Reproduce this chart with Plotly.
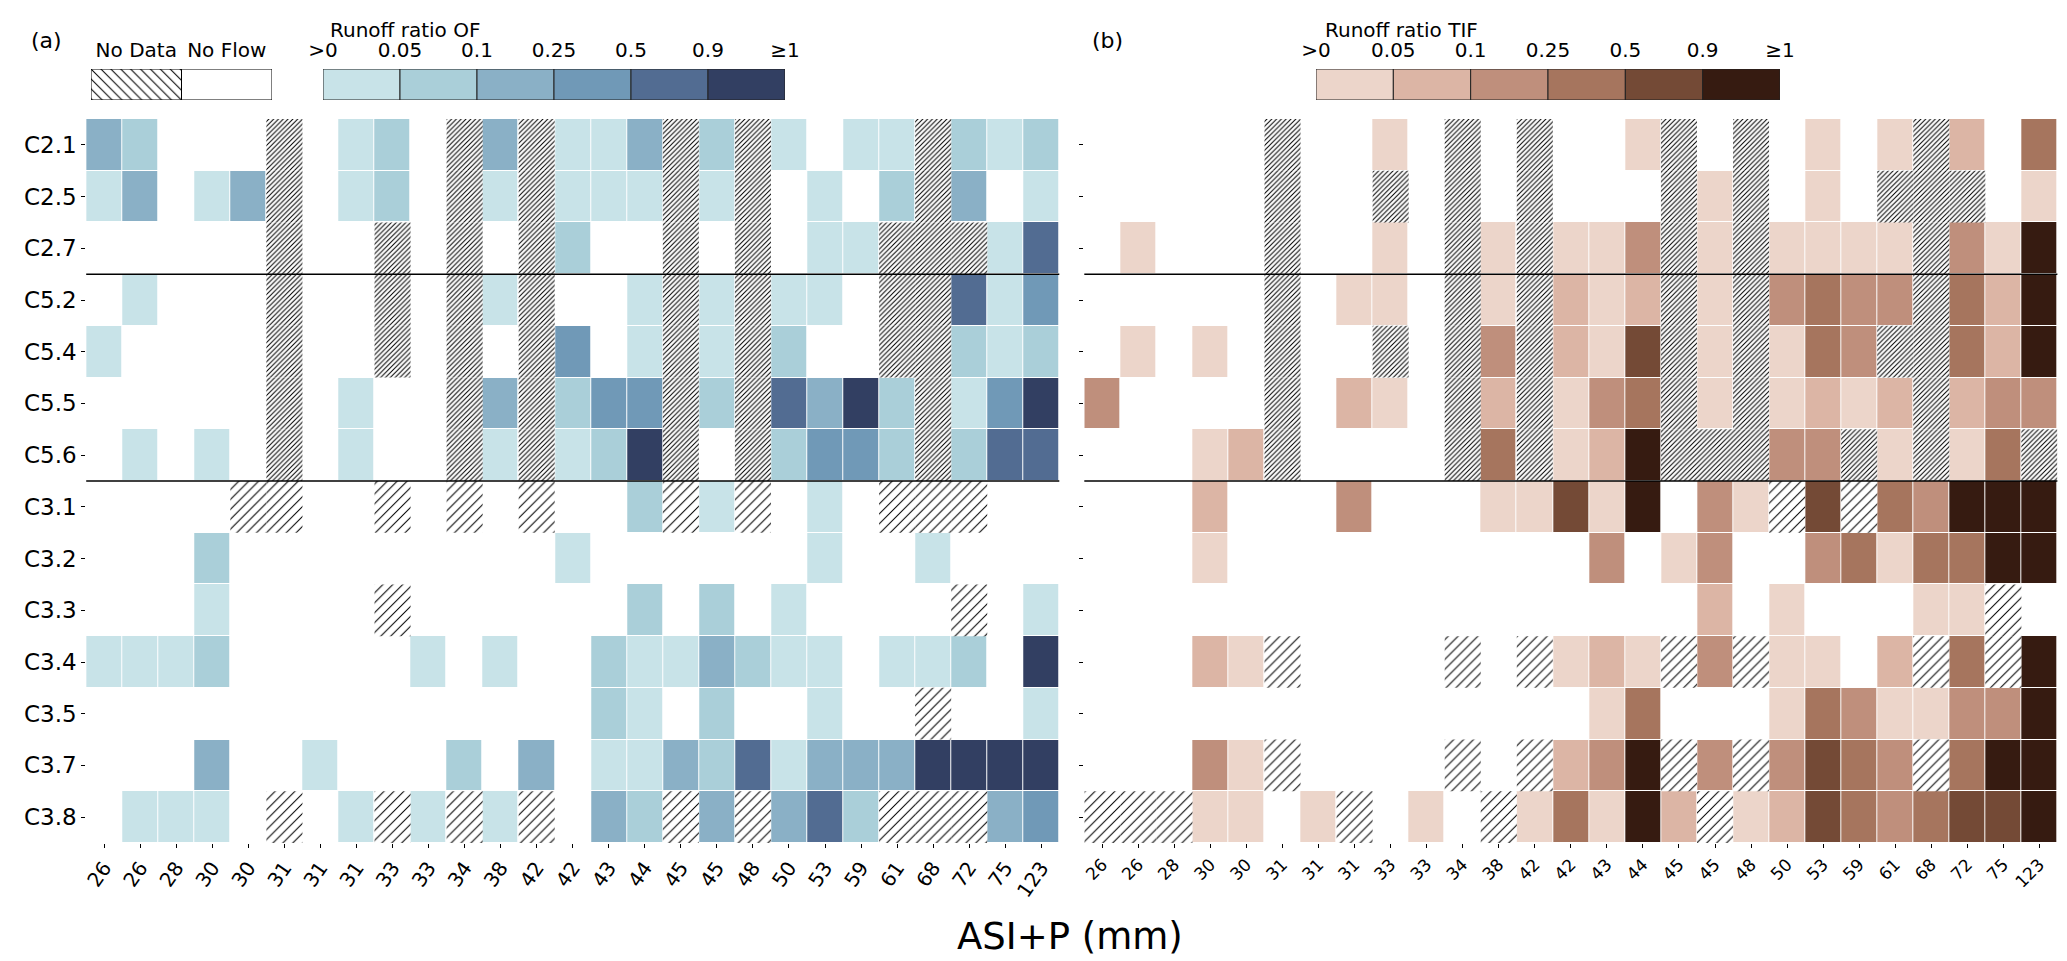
import plotly.graph_objects as go

W, H = 2067, 961

# ASI+P (mm) per event, x axis tick labels
asi_p = [26, 26, 28, 30, 30, 31, 31, 31, 33, 33, 34, 38, 42, 42, 43, 44, 45, 45,
         48, 50, 53, 59, 61, 68, 72, 75, 123]
sites = ['C2.1', 'C2.5', 'C2.7', 'C5.2', 'C5.4', 'C5.5', 'C5.6',
         'C3.1', 'C3.2', 'C3.3', 'C3.4', 'C3.5', 'C3.7', 'C3.8']
groups = [3, 4, 7]  # rows per site group (separated by black lines)
bin_labels = ['>0', '0.05', '0.1', '0.25', '0.5', '0.9', '≥1']

N = -1  # no data ; 0 = no flow ; 1..6 = runoff ratio class
of_class = [
    [3, 2, 0, 0, 0, N, 0, 1, 2, 0, N, 3, N, 1, 1, 3, N, 2, N, 1, 0, 1, 1, N, 2, 1, 2],
    [1, 3, 0, 1, 3, N, 0, 1, 2, 0, N, 1, N, 1, 1, 1, N, 1, N, 0, 1, 0, 2, N, 3, 0, 1],
    [0, 0, 0, 0, 0, N, 0, 0, N, 0, N, 0, N, 2, 0, 0, N, 0, N, 0, 1, 1, N, N, N, 1, 5],
    [0, 1, 0, 0, 0, N, 0, 0, N, 0, N, 1, N, 0, 0, 1, N, 1, N, 1, 1, 0, N, N, 5, 1, 4],
    [1, 0, 0, 0, 0, N, 0, 0, N, 0, N, 0, N, 4, 0, 1, N, 1, N, 2, 0, 0, N, N, 2, 1, 2],
    [0, 0, 0, 0, 0, N, 0, 1, 0, 0, N, 3, N, 2, 4, 4, N, 2, N, 5, 3, 6, 2, N, 1, 4, 6],
    [0, 1, 0, 1, 0, N, 0, 1, 0, 0, N, 1, N, 1, 2, 6, N, 0, N, 2, 4, 4, 2, N, 2, 5, 5],
    [0, 0, 0, 0, N, N, 0, 0, N, 0, N, 0, N, 0, 0, 2, N, 1, N, 0, 1, 0, N, N, N, 0, 0],
    [0, 0, 0, 2, 0, 0, 0, 0, 0, 0, 0, 0, 0, 1, 0, 0, 0, 0, 0, 0, 1, 0, 0, 1, 0, 0, 0],
    [0, 0, 0, 1, 0, 0, 0, 0, N, 0, 0, 0, 0, 0, 0, 2, 0, 2, 0, 1, 0, 0, 0, 0, N, 0, 1],
    [1, 1, 1, 2, 0, 0, 0, 0, 0, 1, 0, 1, 0, 0, 2, 1, 1, 3, 2, 1, 1, 0, 1, 1, 2, 0, 6],
    [0, 0, 0, 0, 0, 0, 0, 0, 0, 0, 0, 0, 0, 0, 2, 1, 0, 2, 0, 0, 1, 0, 0, N, 0, 0, 1],
    [0, 0, 0, 3, 0, 0, 1, 0, 0, 0, 2, 0, 3, 0, 1, 1, 3, 2, 5, 1, 3, 3, 3, 6, 6, 6, 6],
    [0, 1, 1, 1, 0, N, 0, 1, N, 1, N, 1, N, 0, 3, 2, N, 3, N, 3, 5, 2, N, N, N, 3, 4],
]
tif_class = [
    [0, 0, 0, 0, 0, N, 0, 0, 1, 0, N, 0, N, 0, 0, 1, N, 0, N, 0, 1, 0, 1, N, 2, 0, 4],
    [0, 0, 0, 0, 0, N, 0, 0, N, 0, N, 0, N, 0, 0, 0, N, 1, N, 0, 1, 0, N, N, N, 0, 1],
    [0, 1, 0, 0, 0, N, 0, 0, 1, 0, N, 1, N, 1, 1, 3, N, 1, N, 1, 1, 1, 1, N, 3, 1, 6],
    [0, 0, 0, 0, 0, N, 0, 1, 1, 0, N, 1, N, 2, 1, 2, N, 1, N, 3, 4, 3, 3, N, 4, 2, 6],
    [0, 1, 0, 1, 0, N, 0, 0, N, 0, N, 3, N, 2, 1, 5, N, 1, N, 1, 4, 3, N, N, 4, 2, 6],
    [3, 0, 0, 0, 0, N, 0, 2, 1, 0, N, 2, N, 1, 3, 4, N, 1, N, 1, 2, 1, 2, N, 2, 3, 3],
    [0, 0, 0, 1, 2, N, 0, 0, 0, 0, N, 4, N, 1, 2, 6, N, N, N, 3, 3, N, 1, N, 1, 4, N],
    [0, 0, 0, 2, 0, 0, 0, 3, 0, 0, 0, 1, 1, 5, 1, 6, 0, 3, 1, N, 5, N, 4, 3, 6, 6, 6],
    [0, 0, 0, 1, 0, 0, 0, 0, 0, 0, 0, 0, 0, 0, 3, 0, 1, 3, 0, 0, 3, 4, 1, 4, 4, 6, 6],
    [0, 0, 0, 0, 0, 0, 0, 0, 0, 0, 0, 0, 0, 0, 0, 0, 0, 2, 0, 1, 0, 0, 0, 1, 1, N, 0],
    [0, 0, 0, 2, 1, N, 0, 0, 0, 0, N, 0, N, 1, 2, 1, N, 3, N, 1, 1, 0, 2, N, 4, N, 6],
    [0, 0, 0, 0, 0, 0, 0, 0, 0, 0, 0, 0, 0, 0, 1, 4, 0, 0, 0, 1, 4, 3, 1, 1, 3, 3, 6],
    [0, 0, 0, 3, 1, N, 0, 0, 0, 0, N, 0, N, 2, 3, 6, N, 3, N, 3, 5, 4, 3, N, 4, 6, 6],
    [N, N, N, 1, 1, 0, 1, N, 0, 1, 0, N, 1, 4, 1, 6, 2, N, 1, 2, 5, 4, 3, 4, 5, 5, 6],
]

of_colors = ['#c8e3e8', '#aacfd9', '#8ab0c6', '#7099b7', '#526c92', '#323f62']
tif_colors = ['#ecd5ca', '#dcb5a5', '#bf8f7c', '#a6755e', '#744a36', '#361b11']

FONT = 'DejaVu Sans'
cols = list(range(len(asi_p)))
rows = list(range(len(sites)))


def px(x):
    return x / W


def py(y):
    return 1 - y / H


def steps(colors):
    cs = []
    n = len(colors)
    for i, c in enumerate(colors):
        cs += [[i / n, c], [(i + 1) / n, c]]
    return cs


def hatch_bars(cls, xa, ya, row_ids, size, solidity):
    xs, bases = [], []
    for r in row_ids:
        for c, v in enumerate(cls[r]):
            if v == N:
                xs.append(c)
                bases.append(r - 0.5)
    return go.Bar(x=xs, y=[1] * len(xs), base=bases, width=1, xaxis=xa, yaxis=ya,
                  marker=dict(color='white', line_width=0,
                              pattern=dict(shape='/', fgcolor='black', bgcolor='white',
                                           size=size, solidity=solidity)),
                  hoverinfo='skip', showlegend=False)


fig = go.Figure()

# group boundaries -> rows drawn with dense / sparse hatching
edges = [0]
for g in groups:
    edges.append(edges[-1] + g)
top_rows = list(range(0, edges[2]))
bottom_rows = list(range(edges[2], edges[3]))

for cls, colors, xa, ya in [(of_class, of_colors, 'x', 'y'), (tif_class, tif_colors, 'x2', 'y2')]:
    z = [[v if v > 0 else None for v in row] for row in cls]
    fig.add_trace(go.Heatmap(z=z, x=cols, y=rows, zmin=0.5, zmax=6.5, colorscale=steps(colors),
                             showscale=False, xgap=1, ygap=1, hoverinfo='skip', xaxis=xa, yaxis=ya))
    fig.add_trace(hatch_bars(cls, xa, ya, top_rows, 3.4, 0.3))
    fig.add_trace(hatch_bars(cls, xa, ya, bottom_rows, 7, 0.15))
    for e in edges[1:-1]:
        fig.add_shape(type='line', xref=xa + ' domain', x0=0, x1=1, yref=ya, y0=e - 0.5, y1=e - 0.5,
                      line=dict(color='black', width=1.5))

# legends: no data / no flow, and the two class scales
fig.add_trace(go.Bar(x=[0, 1], y=[1, 1], width=1, xaxis='x3', yaxis='y3',
                     marker=dict(color='white', line=dict(color='black', width=1),
                                 pattern=dict(shape=['\\', ''], fgcolor='black', bgcolor='white',
                                              size=7, solidity=0.15)),
                     hoverinfo='skip', showlegend=False))
for colors, xa, ya in [(of_colors, 'x4', 'y4'), (tif_colors, 'x5', 'y5')]:
    fig.add_trace(go.Bar(x=list(range(len(colors))), y=[1] * len(colors), width=1, xaxis=xa, yaxis=ya,
                         marker=dict(color=colors, line=dict(color='#222222', width=1)),
                         hoverinfo='skip', showlegend=False))

ydom = [py(835), py(111)]
leg_y = [py(92), py(61)]
ax = dict(showgrid=False, zeroline=False, showline=False, ticks='outside', ticklen=4,
          tickwidth=1, tickcolor='black')
leg_ax = dict(showgrid=False, zeroline=False, showline=False, ticks='', side='top',
              tickfont=dict(size=20), ticklabelstandoff=7, fixedrange=True)
hide = dict(visible=False, range=[0, 1], fixedrange=True)

fig.update_layout(
    width=W, height=H, template='none', barmode='overlay',
    margin=dict(l=0, r=0, t=0, b=0),
    paper_bgcolor='white', plot_bgcolor='white',
    font=dict(family=FONT, color='black'),
    xaxis=dict(domain=[px(78.2), px(1051.3)], range=[-0.5, 26.5], tickvals=cols,
               ticktext=[str(v) for v in asi_p], tickangle=-55, tickfont=dict(size=20),
               anchor='y', **ax),
    yaxis=dict(domain=ydom, range=[13.5, -0.5], tickvals=rows, ticktext=sites,
               tickfont=dict(size=23), anchor='x', **ax),
    xaxis2=dict(domain=[px(1076.3), px(2049.4)], range=[-0.5, 26.5], tickvals=cols,
                ticktext=[str(v) for v in asi_p], tickangle=-45, tickfont=dict(size=17),
                anchor='y2', **ax),
    yaxis2=dict(domain=ydom, range=[13.5, -0.5], tickvals=rows, showticklabels=False,
                anchor='x2', **ax),
    xaxis3=dict(domain=[px(83), px(264)], range=[-0.5, 1.5], tickvals=[0, 1],
                ticktext=['No Data', 'No Flow'], anchor='y3', **leg_ax),
    yaxis3=dict(domain=leg_y, anchor='x3', **hide),
    xaxis4=dict(domain=[px(315), px(777)], range=[-0.5, 5.5],
                tickvals=[i - 0.5 for i in range(7)], ticktext=bin_labels, anchor='y4', **leg_ax),
    yaxis4=dict(domain=leg_y, anchor='x4', **hide),
    xaxis5=dict(domain=[px(1308), px(1772)], range=[-0.5, 5.5],
                tickvals=[i - 0.5 for i in range(7)], ticktext=bin_labels, anchor='y5', **leg_ax),
    yaxis5=dict(domain=leg_y, anchor='x5', **hide),
)

notes = [('(a)', 38, 32, 22), ('(b)', 1099, 32, 22),
         ('Runoff ratio OF', 397, 22, 20), ('Runoff ratio TIF', 1393, 22, 20),
         ('ASI+P (mm)', 1062, 928, 37)]
for text, x, y, size in notes:
    fig.add_annotation(text=text, x=px(x), y=py(y), xref='paper', yref='paper',
                       xanchor='center', yanchor='middle', showarrow=False,
                       font=dict(size=size, family=FONT, color='black'))

fig.write_html('out.html')
